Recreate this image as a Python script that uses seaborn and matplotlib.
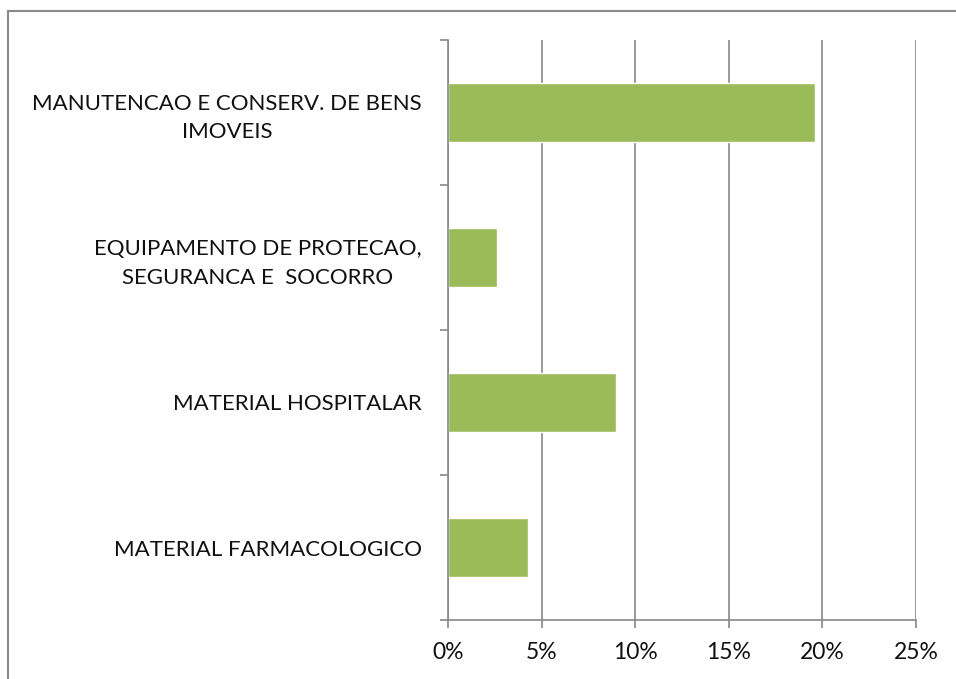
import matplotlib
matplotlib.use("Agg")
import matplotlib.pyplot as plt
import seaborn as sns
import pandas as pd
from matplotlib.patches import Rectangle
from matplotlib.ticker import FixedLocator, FuncFormatter

categories = [
    "MANUTENCAO E CONSERV. DE BENS\nIMOVEIS",
    "EQUIPAMENTO DE PROTECAO,\nSEGURANCA E  SOCORRO",
    "MATERIAL HOSPITALAR",
    "MATERIAL FARMACOLOGICO",
]
shares = [19.6, 2.6, 9.0, 4.3]
x_ticks = [0, 5, 10, 15, 20, 25]

df = pd.DataFrame({"categoria": categories, "percentual": shares})

sns.set_style("white")
plt.rcParams["font.family"] = ["Lato", "DejaVu Sans"]

grey = "#888888"
W, H = 956, 679
fig = plt.figure(figsize=(W / 100, H / 100), dpi=100)
ax = fig.add_axes([448 / W, 1 - 620 / H, (916 - 448) / W, (620 - 40) / H])

sns.barplot(data=df, y="categoria", x="percentual", orient="h",
            color="#9BBB59", width=0.41, saturation=1, ax=ax)

ax.set_xlim(0, 25)
ax.set_ylim(3.5, -0.5)
ax.set_xticks(x_ticks)
ax.xaxis.set_major_formatter(FuncFormatter(lambda v, p: f"{v:.0f}%"))
ax.set_yticks(range(len(categories)), labels=categories,
              multialignment="center", linespacing=1.5)
ax.grid(axis="x", color=grey, linewidth=1.2)
ax.set_axisbelow(True)
ax.set_xlabel("")
ax.set_ylabel("")

for side in ["top", "right"]:
    ax.spines[side].set_visible(False)
for side in ["left", "bottom"]:
    ax.spines[side].set_color(grey)
    ax.spines[side].set_linewidth(1.2)

ax.tick_params(axis="x", direction="out", length=6, width=1.2, color=grey,
               labelsize=16.5, labelcolor="#111111", pad=10, bottom=True)
ax.tick_params(axis="y", which="major", length=0, pad=19, labelsize=16,
               labelcolor="#111111")
ax.yaxis.set_minor_locator(FixedLocator([-0.5, 0.5, 1.5, 2.5, 3.5]))
ax.tick_params(axis="y", which="minor", direction="out", length=5.5,
               width=1.2, color=grey, left=True)

# chart area border (cropped on right and bottom)
fig.patches.append(Rectangle((8 / W, -0.05), 1.1, 1 - 11 / H + 0.05,
                             transform=fig.transFigure, fill=False,
                             edgecolor="#8a8a8a", linewidth=1.5))

fig.savefig("out.png", dpi=100)
